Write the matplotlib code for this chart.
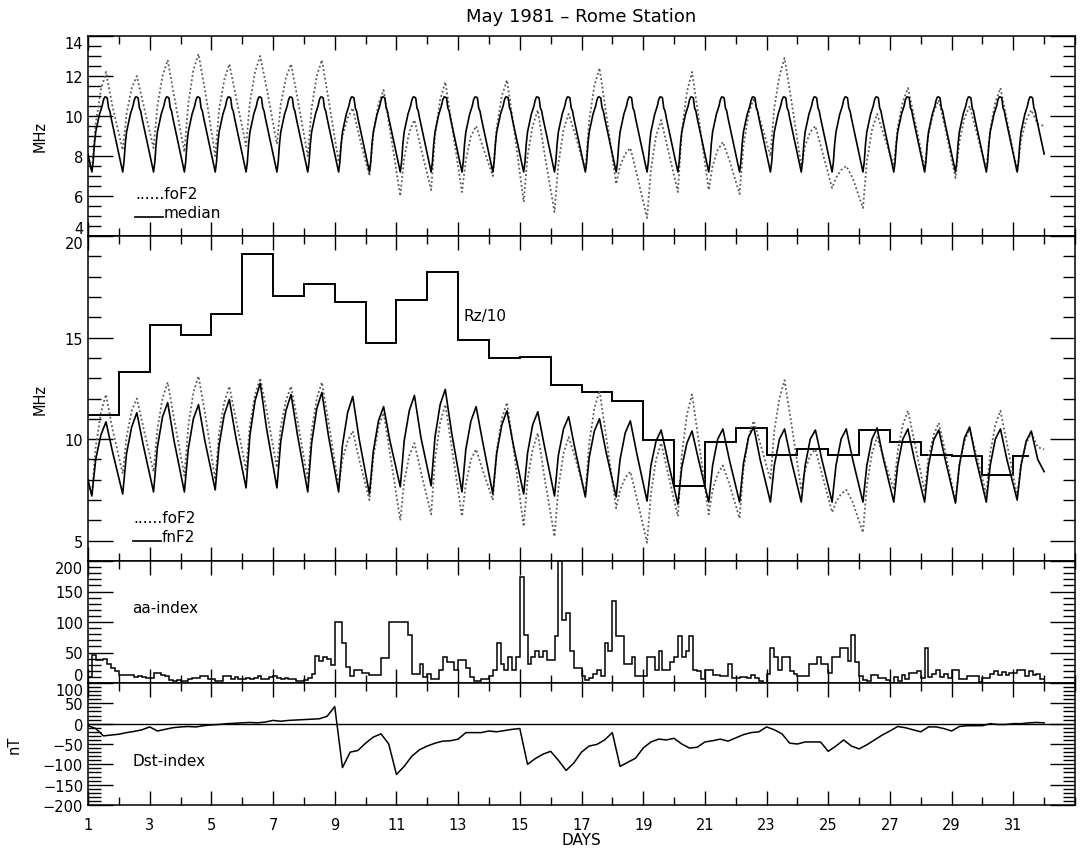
import numpy as np
import matplotlib
matplotlib.use('Agg')
import matplotlib.pyplot as plt
from matplotlib.ticker import MultipleLocator

# monthly median foF2, one value per local hour (same curve every day)
MEDIAN_HOURLY = [8.1, 7.8, 7.5, 7.2, 7.7, 8.6, 9.2, 9.5, 9.8, 10.1, 10.3, 10.5,
                 10.8, 10.95, 10.95, 10.9, 10.4, 10.25, 9.9, 9.6, 9.3, 9.0, 8.7, 8.4]

# foF2 / fnF2 read at these local hours of each day
SAMPLE_HOURS = [3, 6, 10, 14, 19]

FOF2_START, FOF2_END = 7.8, 9.5
FOF2 = [
    [7.3, 9.6, 11.3, 12.2, 10.5], [8.3, 10.1, 11.4, 12.0, 10.6],
    [8.4, 10.5, 12.0, 12.8, 11.0], [8.2, 10.6, 12.3, 13.1, 11.3],
    [8.0, 10.3, 11.8, 12.6, 11.0], [8.5, 10.7, 12.2, 13.0, 11.4],
    [8.6, 10.6, 11.9, 12.6, 10.9], [8.0, 10.4, 12.0, 12.8, 10.9],
    [7.7, 9.0, 9.9, 10.4, 9.0], [7.0, 9.1, 10.6, 11.3, 9.3],
    [6.0, 7.9, 9.2, 9.8, 8.4], [6.3, 9.0, 10.8, 11.7, 9.6],
    [6.2, 7.8, 9.0, 9.5, 8.5], [7.0, 9.4, 11.0, 11.8, 9.6],
    [5.7, 8.0, 9.5, 10.3, 8.2], [5.2, 7.6, 9.3, 10.1, 9.1],
    [7.3, 9.8, 11.5, 12.4, 10.2], [6.6, 7.5, 8.1, 8.4, 7.1],
    [4.9, 7.3, 9.0, 9.8, 8.4], [6.2, 9.2, 11.2, 12.2, 10.0],
    [6.3, 7.5, 8.3, 8.7, 7.8], [6.1, 8.5, 10.1, 10.9, 9.8],
    [8.0, 10.4, 12.0, 12.9, 10.9], [7.5, 8.5, 9.2, 9.5, 8.3],
    [6.4, 6.9, 7.3, 7.5, 6.9], [5.4, 7.7, 9.3, 10.1, 9.1],
    [7.5, 9.4, 10.7, 11.4, 9.9], [7.4, 9.1, 10.2, 10.8, 9.4],
    [6.9, 8.7, 9.9, 10.5, 9.3], [7.3, 9.3, 10.7, 11.4, 9.8],
    [7.2, 8.8, 9.8, 10.3, 9.6],
]

FNF2_START, FNF2_END = 8.0, 8.4
FNF2 = [
    [7.2, 9.0, 10.2, 10.85, 9.4], [7.3, 9.3, 10.6, 11.3, 9.7],
    [7.4, 9.6, 11.1, 11.8, 9.9], [7.4, 9.5, 11.0, 11.7, 9.9],
    [7.5, 9.7, 11.2, 11.95, 10.1], [7.6, 10.2, 11.9, 12.75, 10.5],
    [7.6, 9.9, 11.4, 12.2, 10.2], [7.4, 9.8, 11.5, 12.3, 10.2],
    [7.4, 9.7, 11.3, 12.1, 10.0], [7.3, 9.4, 10.9, 11.6, 9.9],
    [7.65, 9.9, 11.4, 12.15, 10.1], [7.7, 10.1, 11.7, 12.45, 10.3],
    [7.4, 9.5, 10.9, 11.6, 9.9], [7.3, 9.3, 10.7, 11.4, 9.7],
    [7.3, 9.3, 10.7, 11.35, 9.7], [7.2, 9.2, 10.5, 11.1, 9.5],
    [7.15, 9.1, 10.4, 11.0, 9.4], [7.15, 9.0, 10.3, 10.9, 9.3],
    [6.95, 8.7, 9.9, 10.45, 9.0], [6.8, 8.6, 9.8, 10.4, 9.0],
    [6.9, 8.7, 10.0, 10.5, 9.0], [6.9, 8.8, 10.1, 10.6, 9.0],
    [6.9, 8.7, 10.0, 10.5, 9.0], [6.9, 8.7, 10.0, 10.45, 9.0],
    [6.9, 8.7, 10.0, 10.5, 9.0], [6.9, 8.7, 10.0, 10.55, 9.0],
    [6.9, 8.7, 10.0, 10.5, 9.0], [6.9, 8.7, 9.95, 10.45, 9.0],
    [6.85, 8.7, 10.05, 10.6, 9.0], [6.9, 8.7, 10.0, 10.5, 9.0],
    [7.0, 8.7, 9.9, 10.4, 9.0],
]

# daily sunspot number / 10
RZ10 = [11.2, 13.3, 15.6, 15.15, 16.17, 19.1, 17.04, 17.65, 16.74, 14.74,
        16.87, 18.25, 14.9, 13.98, 14.06, 12.67, 12.34, 11.87, 9.96, 7.68,
        9.88, 10.55, 9.24, 9.52, 9.24, 10.44, 9.85, 9.24, 9.16, 8.25, 9.15]
RZ_LAST_EDGE = 31.5

# 3-hourly aa index, 8 per day
AA = [
    [10, 46, 37, 37, 39, 31, 25, 20], [13, 13, 13, 13, 10, 12, 10, 9],
    [9, 17, 17, 13, 12, 5, 4, 5], [4, 4, 6, 8, 8, 11, 11, 6],
    [6, 4, 4, 11, 11, 7, 10, 7], [7, 8, 7, 9, 11, 7, 7, 10],
    [11, 9, 7, 8, 7, 6, 4, 3], [5, 8, 15, 45, 36, 42, 40, 30],
    [100, 100, 66, 27, 11, 21, 21, 16], [16, 13, 13, 13, 41, 41, 100, 100],
    [100, 100, 100, 79, 14, 14, 31, 10], [14, 7, 7, 22, 43, 34, 34, 22],
    [37, 37, 25, 10, 3, 3, 7, 7], [11, 22, 66, 31, 22, 43, 22, 43],
    [173, 79, 31, 43, 53, 43, 53, 37], [37, 77, 200, 103, 115, 53, 25, 25],
    [11, 5, 8, 15, 22, 11, 66, 53], [134, 77, 77, 31, 31, 43, 11, 11],
    [11, 43, 43, 22, 53, 22, 22, 34], [43, 77, 43, 53, 77, 22, 20, 7],
    [22, 22, 13, 13, 12, 12, 31, 9], [9, 10, 10, 9, 13, 9, 4, 0],
    [15, 57, 43, 22, 43, 43, 20, 14], [12, 12, 12, 31, 31, 42, 31, 31],
    [17, 42, 42, 57, 57, 36, 78, 35], [12, 5, 4, 13, 13, 9, 9, 5],
    [0, 10, 3, 13, 6, 16, 16, 20], [8, 57, 10, 14, 22, 10, 15, 8],
    [22, 22, 7, 7, 11, 11, 11, 2], [8, 8, 15, 20, 13, 18, 13, 16],
    [16, 22, 22, 12, 20, 13, 15, 7],
]

# 6-hourly Dst (nT), 4 per day
DST_END = 2
DST = [
    [-5, -12, -30, -28], [-26, -22, -19, -15], [-8, -18, -14, -10],
    [-8, -7, -8, -5], [-3, -2, 0, 1], [2, 3, 2, 4], [8, 6, 8, 9],
    [10, 11, 12, 18], [42, -108, -70, -66], [-48, -33, -25, -50],
    [-125, -105, -80, -64], [-55, -48, -43, -42], [-38, -22, -22, -22],
    [-18, -20, -17, -14], [-12, -100, -86, -75], [-68, -90, -115, -97],
    [-70, -55, -51, -40], [-22, -105, -95, -85], [-60, -45, -38, -40],
    [-36, -50, -60, -58], [-45, -42, -38, -43], [-35, -27, -22, -20],
    [-8, -15, -25, -48], [-50, -45, -45, -45], [-68, -55, -40, -55],
    [-62, -52, -40, -28], [-18, -7, -10, -15], [-20, -8, -8, -12],
    [-18, -7, -5, -5], [-5, 0, -2, -2], [0, 0, 2, 3],
]

ndays = len(FOF2)
days = np.arange(1, ndays + 1)


def sampled_series(rows, start, end):
    t = (days[:, None] + np.array(SAMPLE_HOURS)[None, :] / 24.0).ravel()
    t = np.concatenate([[1.0], t, [ndays + 1.0]])
    v = np.concatenate([[start], np.array(rows).ravel(), [end]])
    return t, v


t_fo, v_fo = sampled_series(FOF2, FOF2_START, FOF2_END)
t_fn, v_fn = sampled_series(FNF2, FNF2_START, FNF2_END)
t_med = np.arange(ndays * 24 + 1) / 24.0 + 1
v_med = np.append(np.tile(MEDIAN_HOURLY, ndays), MEDIAN_HOURLY[0])
aa_edges = 1 + np.arange(ndays * 8 + 1) / 8.0
t_dst = 1 + np.arange(ndays * 4 + 1) / 4.0
v_dst = np.append(np.array(DST).ravel(), DST_END)
rz_edges = np.append(days, RZ_LAST_EDGE)

plt.rcParams['font.family'] = 'DejaVu Sans'
plt.rcParams['font.size'] = 10.5

W, H = 1081, 854
fig = plt.figure(figsize=(W / 100, H / 100), dpi=100)


def panel(top, bottom):
    return fig.add_axes([88 / W, 1 - bottom / H, 987 / W, (bottom - top) / H])


ax1 = panel(37, 237)
ax2 = panel(237, 562)
ax3 = panel(562, 684)
ax4 = panel(684, 806)

dot = dict(color='0.35', lw=1.3, linestyle=(0, (1, 1.4)))
solid = dict(color='black', lw=1.2)

ax1.plot(t_fo, v_fo, **dot)
ax1.plot(t_med, v_med, **solid)
ax1.set_ylim(4, 14)
ax1.set_yticks(np.arange(4, 15, 2))
ax1.yaxis.set_minor_locator(MultipleLocator(0.5))

ax2.plot(t_fo, v_fo, **dot)
ax2.plot(t_fn, v_fn, **solid)
ax2.stairs(RZ10, rz_edges, color='black', lw=1.4, baseline=None)
ax2.set_ylim(4, 20)
ax2.set_yticks([5, 10, 15, 20])
ax2.yaxis.set_minor_locator(MultipleLocator(1))

ax3.stairs(np.array(AA).ravel(), aa_edges, color='black', lw=1.1, baseline=None)
ax3.set_ylim(0, 200)
ax3.set_yticks(np.arange(0, 201, 50))
ax3.yaxis.set_minor_locator(MultipleLocator(10))

ax4.plot(t_dst, v_dst, color='black', lw=1.1)
ax4.axhline(0, color='black', lw=1.0)
ax4.set_ylim(-200, 100)
ax4.set_yticks(np.arange(-200, 101, 50))
ax4.yaxis.set_minor_locator(MultipleLocator(10))

for ax in (ax1, ax2, ax3, ax4):
    ax.set_xlim(1, 33)
    ax.set_xticks(np.arange(1, 32, 2))
    ax.xaxis.set_minor_locator(MultipleLocator(1))
    ax.tick_params(which='both', direction='in', top=True, right=True, width=1)
    ax.tick_params(axis='x', which='major', length=10, pad=9)
    ax.tick_params(axis='x', which='minor', length=6)
    ax.tick_params(axis='y', which='major', length=18)
    ax.tick_params(axis='y', which='minor', length=9)
    for s in ax.spines.values():
        s.set_linewidth(1.1)
    if ax is not ax4:
        ax.tick_params(axis='x', labelbottom=False)

# keep end labels of neighbouring panels from sitting on top of each other
for ax, top_va, bot_va in ((ax1, 'top', 'bottom'), (ax2, 'top', None),
                           (ax3, 'top', 'bottom'), (ax4, 'top', None)):
    ticks = ax.yaxis.get_major_ticks()
    ticks[-1].label1.set_verticalalignment(top_va)
    if bot_va:
        ticks[0].label1.set_verticalalignment(bot_va)

ax1.set_ylabel('MHz')
ax1.yaxis.set_label_coords(-0.0405, 0.5)
ax2.set_ylabel('MHz')
ax2.yaxis.set_label_coords(-0.0405, 0.5)
ax4.set_ylabel('nT')
ax4.yaxis.set_label_coords(-0.067, 0.5)
ax4.set_xlabel('DAYS', fontsize=11, labelpad=0)

# in-panel labels
ax1.text(0.048, 0.19, '......foF2', transform=ax1.transAxes, fontsize=11, va='baseline')
ax1.plot([0.048, 0.076], [0.095, 0.095], transform=ax1.transAxes, color='black', lw=1.2)
ax1.text(0.077, 0.095, 'median', transform=ax1.transAxes, fontsize=11, va='baseline')
ax2.text(0.046, 0.121, '......foF2', transform=ax2.transAxes, fontsize=11, va='baseline')
ax2.plot([0.046, 0.074], [0.061, 0.061], transform=ax2.transAxes, color='black', lw=1.2)
ax2.text(0.075, 0.061, 'fnF2', transform=ax2.transAxes, fontsize=11, va='baseline')
ax2.text(0.38, 0.742, 'Rz/10', transform=ax2.transAxes, fontsize=11, va='baseline')
ax3.text(0.045, 0.584, 'aa-index', transform=ax3.transAxes, fontsize=11, va='baseline')
ax4.text(0.045, 0.328, 'Dst-index', transform=ax4.transAxes, fontsize=11, va='baseline')

fig.text(581 / W, 1 - 17 / H, 'May 1981 – Rome Station', ha='center', va='center', fontsize=13)

fig.savefig('out.png', dpi=100)
